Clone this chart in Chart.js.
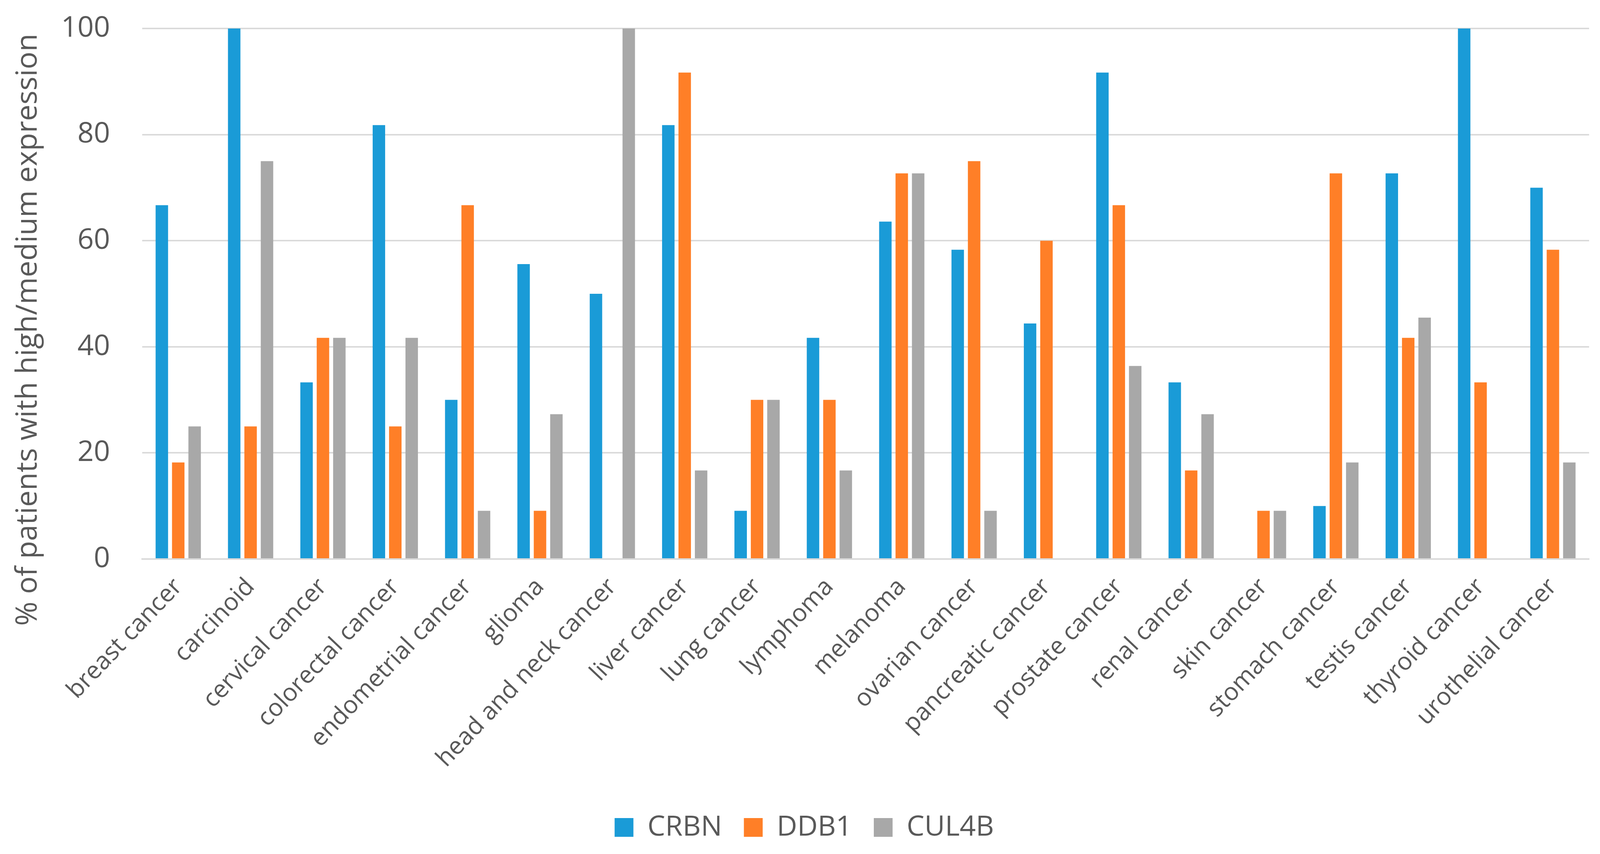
<!DOCTYPE html>
<html>
<head>
<meta charset="utf-8">
<script src="https://cdn.jsdelivr.net/npm/chart.js@4/dist/chart.umd.min.js"></script>
<style>
  html, body { margin: 0; padding: 0; background: #fff; overflow: hidden; }
  #wrap { position: relative; width: 100vw; height: 100vh; }
</style>
</head>
<body>
<div id="wrap"><canvas id="grafico"></canvas></div>
<script>
// tipos de cancer (eixo x)
var categorias = ['breast cancer', 'carcinoid', 'cervical cancer', 'colorectal cancer', 'endometrial cancer',
    'glioma', 'head and neck cancer', 'liver cancer', 'lung cancer', 'lymphoma', 'melanoma',
    'ovarian cancer', 'pancreatic cancer', 'prostate cancer', 'renal cancer', 'skin cancer',
    'stomach cancer', 'testis cancer', 'thyroid cancer', 'urothelial cancer'];

// % de pacientes com expressao alta/media
var crbn  = [66.7, 100, 33.3, 81.8, 30, 55.6, 50, 81.8, 9.1, 41.7, 63.6, 58.3, 44.4, 91.7, 33.3, 0, 10, 72.7, 100, 70];
var ddb1  = [18.2, 25, 41.7, 25, 66.7, 9.1, 0, 91.7, 30, 30, 72.7, 75, 60, 66.7, 16.7, 9.1, 72.7, 41.7, 33.3, 58.3];
var cul4b = [25, 75, 41.7, 41.7, 9.1, 27.3, 100, 16.7, 30, 16.7, 72.7, 9.1, 0, 36.4, 27.3, 9.1, 18.2, 45.5, 0, 18.2];

var ticksY = [0, 20, 40, 60, 80, 100];
var tituloY = '% of patients with high/medium expression';

var corTexto = '#595959';
var corGrade = '#d9d9d9';

// medidas tiradas da imagem de 4257x2186, escala pro tamanho real da janela
var kx = window.innerWidth / 4257;
var ky = window.innerHeight / 2186;
function px(v) { return v * kx; }
function py(v) { return v * ky; }

var fonteLegenda = px(75);
var padLegenda = px(58);
var alturaX = py(636);

function serie(nome, valores, cor) {
    return {
        label: nome,
        data: valores,
        backgroundColor: cor,
        borderWidth: 0,
        categoryPercentage: 0.68,
        barPercentage: 0.76
    };
}

// titulo do eixo y desenhado na mao (no excel ele nao fica centrado na area do grafico)
var tituloEixoY = {
    id: 'tituloEixoY',
    afterDraw: function (chart) {
        var c = chart.ctx;
        c.save();
        c.translate(px(76), py(844));
        c.rotate(-Math.PI / 2);
        c.fillStyle = corTexto;
        c.font = py(75) + 'px "Open Sans"';
        c.textAlign = 'center';
        c.textBaseline = 'middle';
        c.fillText(tituloY, 0, 0);
        c.restore();
    }
};

// chart.js deixa a legenda um pouco pra esquerda, empurra ela
var ajusteLegenda = {
    id: 'ajusteLegenda',
    afterLayout: function (chart) {
        chart.legend.left += px(26);
        chart.legend.right += px(26);
    }
};

var ctx = document.getElementById('grafico').getContext('2d');
var chart = new Chart(ctx, {
    type: 'bar',
    data: {
        labels: categorias,
        datasets: [
            serie('CRBN', crbn, '#1a9bd7'),
            serie('DDB1', ddb1, '#ff7f27'),
            serie('CUL4B', cul4b, '#a8a8a8')
        ]
    },
    plugins: [tituloEixoY, ajusteLegenda],
    options: {
        responsive: true,
        maintainAspectRatio: false,
        animation: false,
        layout: {
            padding: { top: py(73), right: px(29), bottom: py(1), left: 0 }
        },
        plugins: {
            tooltip: { enabled: false },
            legend: {
                position: 'bottom',
                labels: {
                    color: corTexto,
                    font: { family: 'Open Sans', size: fonteLegenda },
                    boxWidth: px(50),
                    boxHeight: px(50),
                    padding: padLegenda
                }
            }
        },
        scales: {
            x: {
                grid: { display: false, drawTicks: false },
                border: { display: true, color: corGrade, width: px(4) },
                ticks: {
                    color: corTexto,
                    font: { family: 'Open Sans', size: px(65) },
                    maxRotation: 46.5,
                    minRotation: 46.5,
                    autoSkip: false,
                    padding: py(35)
                },
                afterFit: function (scale) { scale.height = alturaX; }
            },
            y: {
                min: 0,
                max: 100,
                afterBuildTicks: function (scale) {
                    scale.ticks = ticksY.map(function (v) { return { value: v }; });
                },
                grid: { color: corGrade, lineWidth: px(4), drawTicks: false },
                border: { display: false },
                ticks: {
                    color: corTexto,
                    font: { family: 'Open Sans', size: px(76) },
                    padding: px(85)
                },
                afterFit: function (scale) {
                    scale.width = px(378);
                    scale.paddingTop = 0;
                    scale.paddingBottom = 0;
                }
            }
        }
    }
});

// segunda passada: acerta a altura do eixo x pra legenda ficar no lugar certo
var H = window.innerHeight;
var topoLegenda = py(2118) - padLegenda - fonteLegenda / 2;
alturaX = topoLegenda - py(1431);
chart.options.layout.padding.bottom = Math.max(0, H - topoLegenda - chart.legend.height);
chart.update();
</script>
</body>
</html>
